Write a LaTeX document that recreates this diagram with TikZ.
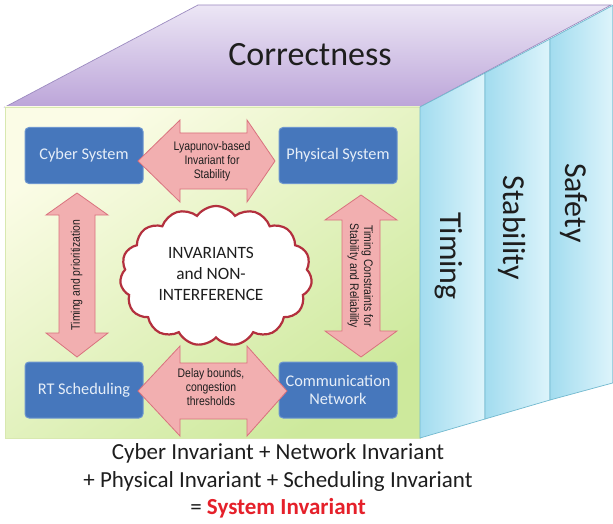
\documentclass[tikz,border=0pt]{standalone}
\usepackage{fontspec}
\setmainfont{Carlito}
\newfontfamily\arialf{Liberation Sans}
\usetikzlibrary{shapes.symbols}
\definecolor{topA}{HTML}{ECE6F5}
\definecolor{topB}{HTML}{BCA5D9}
\definecolor{topedge}{HTML}{9C8BC0}
\definecolor{frontA}{HTML}{FBFCE6}
\definecolor{frontB}{HTML}{CDE99C}
\definecolor{frontedge}{HTML}{D8E8B0}
\definecolor{panelA}{HTML}{A2DCEF}
\definecolor{panelB}{HTML}{DDF4FB}
\definecolor{paneledge}{HTML}{72B9CF}
\definecolor{boxblue}{HTML}{4677BC}
\definecolor{boxedge}{HTML}{6D96CF}
\definecolor{boxtext}{HTML}{E6EEF8}
\definecolor{pinkA}{HTML}{FBE0E0}
\definecolor{pinkB}{HTML}{F2AFB0}
\definecolor{arrowred}{HTML}{D9727E}
\definecolor{cloudred}{HTML}{B3303E}
\definecolor{sysred}{HTML}{E5202A}
\definecolor{textgray}{HTML}{1E1E1E}
\newcommand{\narrowtxt}[1]{\scalebox{0.84}[1]{\begin{tabular}{@{}c@{}}#1\end{tabular}}}
\tikzset{
  panelface/.style={draw=paneledge, line width=0.7pt, left color=panelA, right color=panelB},
  paneltext/.style={font=\fontsize{32}{36}\selectfont, text=textgray, inner sep=0pt},
  sysbox/.style={draw=boxedge, line width=1pt, fill=boxblue, rounded corners=4pt,
    minimum width=118pt, minimum height=56pt, text=boxtext, align=center,
    font=\fontsize{16.3}{18}\selectfont},
  hshape/.style={draw=arrowred, line width=0.8pt, top color=pinkB, middle color=pinkA, bottom color=pinkB},
  vshape/.style={draw=arrowred, line width=0.8pt, left color=pinkB, middle color=pinkA, right color=pinkB},
  arrowtext/.style={font=\arialf\fontsize{12.4}{14}\selectfont, text=textgray, inner sep=0pt},
  bottomtext/.style={font=\fontsize{23}{28}\selectfont, text=textgray, inner sep=0pt}
}
\begin{document}
\begin{tikzpicture}[x=1pt,y=-1pt]
\useasboundingbox (0,0) rectangle (613,524);
\fill[white] (0,0) rectangle (613,524);
% top face
\shadedraw[draw=topedge, line width=0.7pt, top color=topA, bottom color=topB]
  (5,107) -- (198,5) -- (611,5) -- (420,107) -- cycle;
\node[font=\fontsize{34}{38}\selectfont, text=textgray] (correct) at (310,55) {Correctness};
% front face
\shadedraw[draw=frontedge, line width=0.7pt, top color=frontA, bottom color=frontB, shading angle=35]
  (5,107) rectangle (420,438);
% side panels
\shadedraw[panelface] (420,107) -- (485,73) -- (485,419) -- (420,438) -- cycle;
\shadedraw[panelface] (485,73) -- (550,39) -- (550,400) -- (485,419) -- cycle;
\shadedraw[panelface] (550,39) -- (612.6,5.5) -- (612.6,383) -- (550,400) -- cycle;
\node[paneltext, rotate=-90] (timing) at (449,256) {Timing};
\node[paneltext, rotate=-90] (stability) at (512,228) {Stability};
\node[paneltext, rotate=-90] (safety) at (574,203) {Safety};
% system boxes
\node[sysbox] (cyber) at (84,155.5) {Cyber System};
\node[sysbox] (physical) at (338,155.5) {Physical System};
\node[sysbox] (rt) at (84,390) {RT Scheduling};
\node[sysbox] (comm) at (338,390) {Communication\\Network};
% block arrows
\shadedraw[hshape] (138,161) -- (180,120) -- (180,133) -- (247,133) -- (247,120) -- (275,161)
  -- (247,202) -- (247,189) -- (180,189) -- (180,202) -- cycle;
\shadedraw[hshape] (138,391) -- (180,346) -- (180,363) -- (247,363) -- (247,346) -- (287,391)
  -- (247,436) -- (247,419) -- (180,419) -- (180,436) -- cycle;
\shadedraw[vshape] (77,193) -- (108,215) -- (95,215) -- (95,333) -- (108,333) -- (77,357)
  -- (46,333) -- (59,333) -- (59,215) -- (46,215) -- cycle;
\shadedraw[vshape] (361,195) -- (397,220) -- (380,220) -- (380,331) -- (397,331) -- (361,357)
  -- (325,331) -- (342,331) -- (342,220) -- (325,220) -- cycle;
\node[arrowtext] (lyap) at (212,162) {\narrowtxt{Lyapunov-based\\Invariant for\\Stability}};
\node[arrowtext] (delay) at (211,389) {\narrowtxt{Delay bounds,\\congestion\\thresholds}};
\node[arrowtext, rotate=90] (tprio) at (77,275) {\narrowtxt{Timing and prioritization}};
\node[arrowtext, rotate=-90] (tcons) at (360,276) {\narrowtxt{Timing Constraints for\\Stability and Reliability}};
% cloud
\node[cloud, cloud puffs=15, cloud puff arc=110, aspect=1.36, draw=cloudred, line width=2.2pt,
  fill=white, minimum width=192pt, minimum height=140pt] (cloud) at (216,276) {};
\node[font=\fontsize{17.3}{21}\selectfont, align=center, text=textgray] (cloudtext) at (211,274)
  {INVARIANTS\\and NON-\\INTERFERENCE};
% bottom text
\node[bottomtext] (l1) at (278,453) {Cyber Invariant + Network Invariant};
\node[bottomtext] (l2) at (278,481) {+ Physical Invariant + Scheduling Invariant};
\node[bottomtext] (l3) at (278,508) {= \textcolor{sysred}{\textbf{System Invariant}}};
\end{tikzpicture}
\end{document}
